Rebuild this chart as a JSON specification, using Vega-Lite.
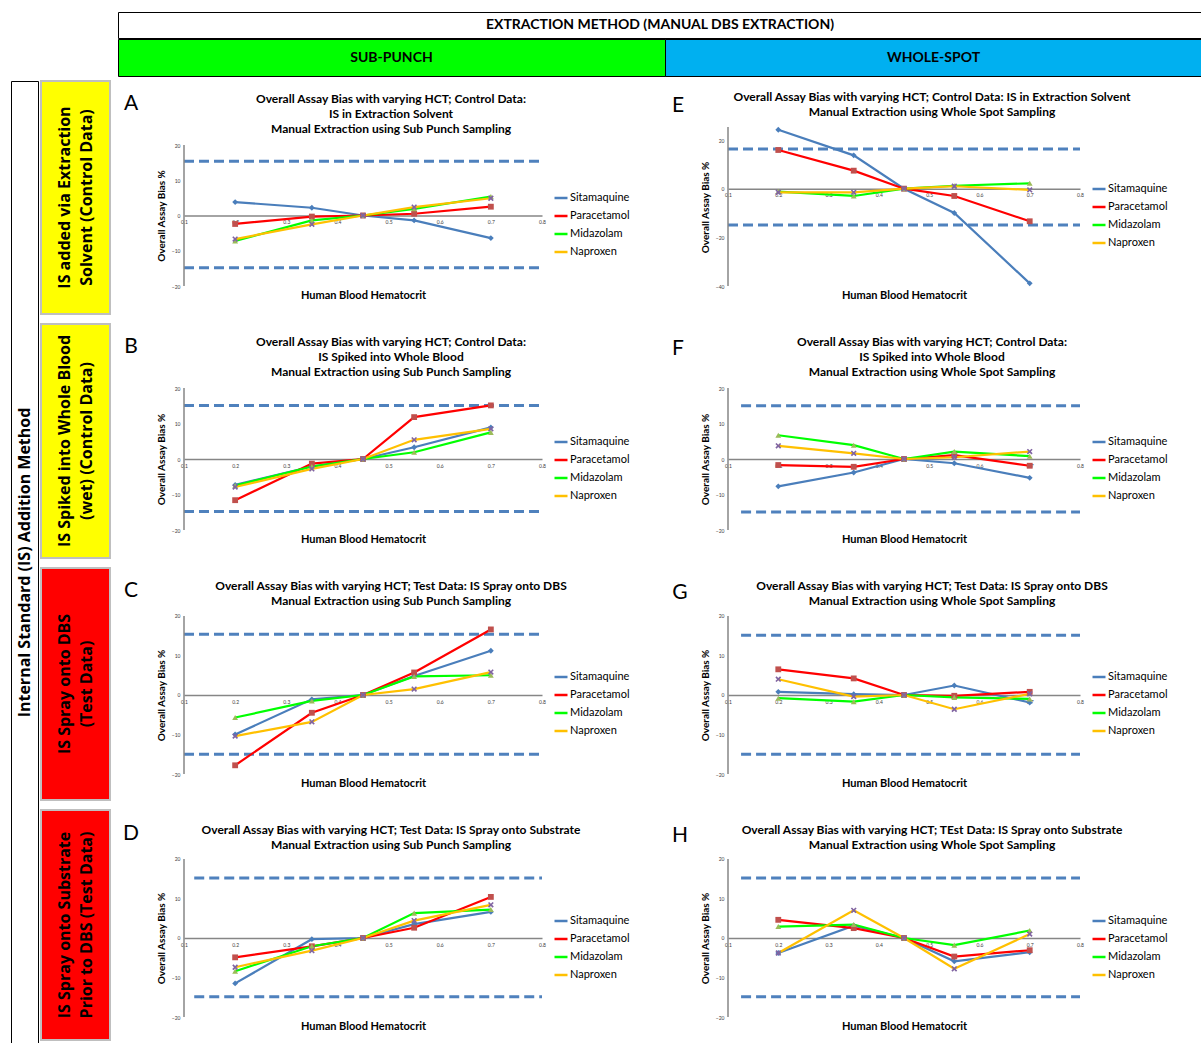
{
"$schema": "https://vega.github.io/schema/vega-lite/v6.json",
"padding": {"left": 10, "top": 11, "right": 0, "bottom": 0},
"autosize": {"type": "pad"},
"background": "white",
"spacing": 3,
"resolve": {"scale": {"color": "independent"}},
"config": {
  "font": "Lato",
  "view": {"stroke": null},
  "axis": {"grid": false, "ticks": false, "tickSize": 0, "labelFontSize": 5, "labelColor": "#404040", "domainColor": "#868686", "domainWidth": 1.5, "titleFontWeight": "bold", "titleColor": "black", "labelFlush": false, "labelOverlap": false},
  "axisX": {"titleFontSize": 11, "labelPadding": 4, "titleBaseline": "middle"},
  "axisY": {"titleFontSize": 10, "labelPadding": 4, "titlePadding": 5, "domain": false},
  "legend": {"orient": "none", "symbolType": "stroke", "symbolStrokeWidth": 2.5, "symbolSize": 169, "labelFontSize": 11, "labelColor": "black", "rowPadding": 5, "labelOffset": 1, "padding": 0},
  "title": {"fontSize": 12, "fontWeight": "bold", "lineHeight": 15, "anchor": "middle", "frame": "group", "dx": 28, "color": "black"}
},
"datasets": {
  "bias": [
    {"panel":"A","drug":"Sitamaquine","hct":0.2,"bias":3.8},{"panel":"A","drug":"Sitamaquine","hct":0.35,"bias":2.2},{"panel":"A","drug":"Sitamaquine","hct":0.45,"bias":0},{"panel":"A","drug":"Sitamaquine","hct":0.55,"bias":-1.4},{"panel":"A","drug":"Sitamaquine","hct":0.7,"bias":-6.4},
    {"panel":"A","drug":"Paracetamol","hct":0.2,"bias":-2.4},{"panel":"A","drug":"Paracetamol","hct":0.35,"bias":-0.3},{"panel":"A","drug":"Paracetamol","hct":0.45,"bias":0},{"panel":"A","drug":"Paracetamol","hct":0.55,"bias":0.5},{"panel":"A","drug":"Paracetamol","hct":0.7,"bias":2.5},
    {"panel":"A","drug":"Midazolam","hct":0.2,"bias":-7.2},{"panel":"A","drug":"Midazolam","hct":0.35,"bias":-1.4},{"panel":"A","drug":"Midazolam","hct":0.45,"bias":0},{"panel":"A","drug":"Midazolam","hct":0.55,"bias":1.9},{"panel":"A","drug":"Midazolam","hct":0.7,"bias":5.4},
    {"panel":"A","drug":"Naproxen","hct":0.2,"bias":-6.7},{"panel":"A","drug":"Naproxen","hct":0.35,"bias":-2.5},{"panel":"A","drug":"Naproxen","hct":0.45,"bias":0},{"panel":"A","drug":"Naproxen","hct":0.55,"bias":2.4},{"panel":"A","drug":"Naproxen","hct":0.7,"bias":4.9},
    {"panel":"E","drug":"Sitamaquine","hct":0.2,"bias":24.2},{"panel":"E","drug":"Sitamaquine","hct":0.35,"bias":13.7},{"panel":"E","drug":"Sitamaquine","hct":0.45,"bias":0},{"panel":"E","drug":"Sitamaquine","hct":0.55,"bias":-10.0},{"panel":"E","drug":"Sitamaquine","hct":0.7,"bias":-38.9},
    {"panel":"E","drug":"Paracetamol","hct":0.2,"bias":15.9},{"panel":"E","drug":"Paracetamol","hct":0.35,"bias":7.4},{"panel":"E","drug":"Paracetamol","hct":0.45,"bias":0},{"panel":"E","drug":"Paracetamol","hct":0.55,"bias":-3.0},{"panel":"E","drug":"Paracetamol","hct":0.7,"bias":-13.4},
    {"panel":"E","drug":"Midazolam","hct":0.2,"bias":-1.2},{"panel":"E","drug":"Midazolam","hct":0.35,"bias":-3.0},{"panel":"E","drug":"Midazolam","hct":0.45,"bias":0},{"panel":"E","drug":"Midazolam","hct":0.55,"bias":1.2},{"panel":"E","drug":"Midazolam","hct":0.7,"bias":2.2},
    {"panel":"E","drug":"Naproxen","hct":0.2,"bias":-1.5},{"panel":"E","drug":"Naproxen","hct":0.35,"bias":-1.5},{"panel":"E","drug":"Naproxen","hct":0.45,"bias":0},{"panel":"E","drug":"Naproxen","hct":0.55,"bias":1.0},{"panel":"E","drug":"Naproxen","hct":0.7,"bias":-0.5},
    {"panel":"B","drug":"Sitamaquine","hct":0.2,"bias":-7.3},{"panel":"B","drug":"Sitamaquine","hct":0.35,"bias":-2.1},{"panel":"B","drug":"Sitamaquine","hct":0.45,"bias":0},{"panel":"B","drug":"Sitamaquine","hct":0.55,"bias":3.3},{"panel":"B","drug":"Sitamaquine","hct":0.7,"bias":8.9},
    {"panel":"B","drug":"Paracetamol","hct":0.2,"bias":-11.6},{"panel":"B","drug":"Paracetamol","hct":0.35,"bias":-1.3},{"panel":"B","drug":"Paracetamol","hct":0.45,"bias":0},{"panel":"B","drug":"Paracetamol","hct":0.55,"bias":11.8},{"panel":"B","drug":"Paracetamol","hct":0.7,"bias":15.1},
    {"panel":"B","drug":"Midazolam","hct":0.2,"bias":-7.5},{"panel":"B","drug":"Midazolam","hct":0.35,"bias":-2.1},{"panel":"B","drug":"Midazolam","hct":0.45,"bias":0},{"panel":"B","drug":"Midazolam","hct":0.55,"bias":1.9},{"panel":"B","drug":"Midazolam","hct":0.7,"bias":7.5},
    {"panel":"B","drug":"Naproxen","hct":0.2,"bias":-7.9},{"panel":"B","drug":"Naproxen","hct":0.35,"bias":-2.8},{"panel":"B","drug":"Naproxen","hct":0.45,"bias":0},{"panel":"B","drug":"Naproxen","hct":0.55,"bias":5.4},{"panel":"B","drug":"Naproxen","hct":0.7,"bias":8.5},
    {"panel":"F","drug":"Sitamaquine","hct":0.2,"bias":-7.7},{"panel":"F","drug":"Sitamaquine","hct":0.35,"bias":-3.8},{"panel":"F","drug":"Sitamaquine","hct":0.45,"bias":0},{"panel":"F","drug":"Sitamaquine","hct":0.55,"bias":-1.2},{"panel":"F","drug":"Sitamaquine","hct":0.7,"bias":-5.3},
    {"panel":"F","drug":"Paracetamol","hct":0.2,"bias":-1.7},{"panel":"F","drug":"Paracetamol","hct":0.35,"bias":-2.2},{"panel":"F","drug":"Paracetamol","hct":0.45,"bias":0},{"panel":"F","drug":"Paracetamol","hct":0.55,"bias":1.1},{"panel":"F","drug":"Paracetamol","hct":0.7,"bias":-1.9},
    {"panel":"F","drug":"Midazolam","hct":0.2,"bias":6.7},{"panel":"F","drug":"Midazolam","hct":0.35,"bias":3.9},{"panel":"F","drug":"Midazolam","hct":0.45,"bias":0},{"panel":"F","drug":"Midazolam","hct":0.55,"bias":2.1},{"panel":"F","drug":"Midazolam","hct":0.7,"bias":0.8},
    {"panel":"F","drug":"Naproxen","hct":0.2,"bias":3.7},{"panel":"F","drug":"Naproxen","hct":0.35,"bias":1.6},{"panel":"F","drug":"Naproxen","hct":0.45,"bias":0},{"panel":"F","drug":"Naproxen","hct":0.55,"bias":0.5},{"panel":"F","drug":"Naproxen","hct":0.7,"bias":2.1},
    {"panel":"C","drug":"Sitamaquine","hct":0.2,"bias":-10.0},{"panel":"C","drug":"Sitamaquine","hct":0.35,"bias":-1.1},{"panel":"C","drug":"Sitamaquine","hct":0.45,"bias":0},{"panel":"C","drug":"Sitamaquine","hct":0.55,"bias":4.8},{"panel":"C","drug":"Sitamaquine","hct":0.7,"bias":11.2},
    {"panel":"C","drug":"Paracetamol","hct":0.2,"bias":-17.8},{"panel":"C","drug":"Paracetamol","hct":0.35,"bias":-4.5},{"panel":"C","drug":"Paracetamol","hct":0.45,"bias":0},{"panel":"C","drug":"Paracetamol","hct":0.55,"bias":5.7},{"panel":"C","drug":"Paracetamol","hct":0.7,"bias":16.6},
    {"panel":"C","drug":"Midazolam","hct":0.2,"bias":-5.7},{"panel":"C","drug":"Midazolam","hct":0.35,"bias":-1.5},{"panel":"C","drug":"Midazolam","hct":0.45,"bias":0},{"panel":"C","drug":"Midazolam","hct":0.55,"bias":4.7},{"panel":"C","drug":"Midazolam","hct":0.7,"bias":5.0},
    {"panel":"C","drug":"Naproxen","hct":0.2,"bias":-10.4},{"panel":"C","drug":"Naproxen","hct":0.35,"bias":-6.8},{"panel":"C","drug":"Naproxen","hct":0.45,"bias":0},{"panel":"C","drug":"Naproxen","hct":0.55,"bias":1.5},{"panel":"C","drug":"Naproxen","hct":0.7,"bias":5.8},
    {"panel":"G","drug":"Sitamaquine","hct":0.2,"bias":0.8},{"panel":"G","drug":"Sitamaquine","hct":0.35,"bias":0.2},{"panel":"G","drug":"Sitamaquine","hct":0.45,"bias":0},{"panel":"G","drug":"Sitamaquine","hct":0.55,"bias":2.4},{"panel":"G","drug":"Sitamaquine","hct":0.7,"bias":-1.9},
    {"panel":"G","drug":"Paracetamol","hct":0.2,"bias":6.5},{"panel":"G","drug":"Paracetamol","hct":0.35,"bias":4.2},{"panel":"G","drug":"Paracetamol","hct":0.45,"bias":0},{"panel":"G","drug":"Paracetamol","hct":0.55,"bias":-0.2},{"panel":"G","drug":"Paracetamol","hct":0.7,"bias":0.8},
    {"panel":"G","drug":"Midazolam","hct":0.2,"bias":-0.8},{"panel":"G","drug":"Midazolam","hct":0.35,"bias":-1.7},{"panel":"G","drug":"Midazolam","hct":0.45,"bias":0},{"panel":"G","drug":"Midazolam","hct":0.55,"bias":-0.6},{"panel":"G","drug":"Midazolam","hct":0.7,"bias":-1.0},
    {"panel":"G","drug":"Naproxen","hct":0.2,"bias":4.0},{"panel":"G","drug":"Naproxen","hct":0.35,"bias":-0.4},{"panel":"G","drug":"Naproxen","hct":0.45,"bias":0},{"panel":"G","drug":"Naproxen","hct":0.55,"bias":-3.6},{"panel":"G","drug":"Naproxen","hct":0.7,"bias":0.3},
    {"panel":"D","drug":"Sitamaquine","hct":0.2,"bias":-11.5},{"panel":"D","drug":"Sitamaquine","hct":0.35,"bias":-0.3},{"panel":"D","drug":"Sitamaquine","hct":0.45,"bias":0},{"panel":"D","drug":"Sitamaquine","hct":0.55,"bias":3.5},{"panel":"D","drug":"Sitamaquine","hct":0.7,"bias":6.6},
    {"panel":"D","drug":"Paracetamol","hct":0.2,"bias":-4.9},{"panel":"D","drug":"Paracetamol","hct":0.35,"bias":-2.1},{"panel":"D","drug":"Paracetamol","hct":0.45,"bias":0},{"panel":"D","drug":"Paracetamol","hct":0.55,"bias":2.6},{"panel":"D","drug":"Paracetamol","hct":0.7,"bias":10.4},
    {"panel":"D","drug":"Midazolam","hct":0.2,"bias":-8.4},{"panel":"D","drug":"Midazolam","hct":0.35,"bias":-2.1},{"panel":"D","drug":"Midazolam","hct":0.45,"bias":0},{"panel":"D","drug":"Midazolam","hct":0.55,"bias":6.3},{"panel":"D","drug":"Midazolam","hct":0.7,"bias":7.2},
    {"panel":"D","drug":"Naproxen","hct":0.2,"bias":-7.4},{"panel":"D","drug":"Naproxen","hct":0.35,"bias":-3.2},{"panel":"D","drug":"Naproxen","hct":0.45,"bias":0},{"panel":"D","drug":"Naproxen","hct":0.55,"bias":4.4},{"panel":"D","drug":"Naproxen","hct":0.7,"bias":8.4},
    {"panel":"H","drug":"Sitamaquine","hct":0.2,"bias":-3.8},{"panel":"H","drug":"Sitamaquine","hct":0.35,"bias":3.1},{"panel":"H","drug":"Sitamaquine","hct":0.45,"bias":0},{"panel":"H","drug":"Sitamaquine","hct":0.55,"bias":-5.9},{"panel":"H","drug":"Sitamaquine","hct":0.7,"bias":-3.6},
    {"panel":"H","drug":"Paracetamol","hct":0.2,"bias":4.6},{"panel":"H","drug":"Paracetamol","hct":0.35,"bias":2.5},{"panel":"H","drug":"Paracetamol","hct":0.45,"bias":0},{"panel":"H","drug":"Paracetamol","hct":0.55,"bias":-4.7},{"panel":"H","drug":"Paracetamol","hct":0.7,"bias":-3.1},
    {"panel":"H","drug":"Midazolam","hct":0.2,"bias":2.9},{"panel":"H","drug":"Midazolam","hct":0.35,"bias":3.4},{"panel":"H","drug":"Midazolam","hct":0.45,"bias":0},{"panel":"H","drug":"Midazolam","hct":0.55,"bias":-1.8},{"panel":"H","drug":"Midazolam","hct":0.7,"bias":1.9},
    {"panel":"H","drug":"Naproxen","hct":0.2,"bias":-3.8},{"panel":"H","drug":"Naproxen","hct":0.35,"bias":7.0},{"panel":"H","drug":"Naproxen","hct":0.45,"bias":0},{"panel":"H","drug":"Naproxen","hct":0.55,"bias":-7.8},{"panel":"H","drug":"Naproxen","hct":0.7,"bias":1.0}
  ],
  "limits": [
    {"panel":"A","hct":0.1,"hctEnd":0.8,"bias":15.4},{"panel":"A","hct":0.1,"hctEnd":0.8,"bias":-14.8},
    {"panel":"E","hct":0.1,"hctEnd":0.8,"bias":16.3},{"panel":"E","hct":0.1,"hctEnd":0.8,"bias":-14.9},
    {"panel":"B","hct":0.1,"hctEnd":0.8,"bias":15.1},{"panel":"B","hct":0.1,"hctEnd":0.8,"bias":-14.8},
    {"panel":"F","hct":0.126,"hctEnd":0.8,"bias":15.0},{"panel":"F","hct":0.126,"hctEnd":0.8,"bias":-14.9},
    {"panel":"C","hct":0.1,"hctEnd":0.8,"bias":15.4},{"panel":"C","hct":0.1,"hctEnd":0.8,"bias":-15.0},
    {"panel":"G","hct":0.126,"hctEnd":0.8,"bias":15.1},{"panel":"G","hct":0.126,"hctEnd":0.8,"bias":-15.0},
    {"panel":"D","hct":0.12,"hctEnd":0.8,"bias":15.2},{"panel":"D","hct":0.12,"hctEnd":0.8,"bias":-14.9},
    {"panel":"H","hct":0.126,"hctEnd":0.8,"bias":15.2},{"panel":"H","hct":0.126,"hctEnd":0.8,"bias":-14.9}
  ],
  "yaxis": [
    {"panel":"A","lo":-20,"hi":20},{"panel":"E","lo":-40,"hi":25.3},{"panel":"B","lo":-20,"hi":20},{"panel":"F","lo":-20,"hi":20},
    {"panel":"C","lo":-20,"hi":20},{"panel":"G","lo":-20,"hi":20},{"panel":"D","lo":-20,"hi":20},{"panel":"H","lo":-20,"hi":20}
  ]
},
"vconcat": [
  {"spacing": -3, "vconcat": [
    {"bounds": "flush", "spacing": 0, "hconcat": [
      {"width": 107, "height": 26, "data": {"values": [{"t": ""}]}, "mark": "text", "encoding": {"text": {"field": "t"}}},
      {"width": 1084, "height": 26, "view": {"stroke": "black", "strokeWidth": 1}, "data": {"values": [{"t": "EXTRACTION METHOD (MANUAL DBS EXTRACTION)"}]}, "mark": {"type": "text", "fontSize": 14, "fontWeight": "bold"}, "encoding": {"text": {"field": "t"}}}
    ]},
    {"bounds": "flush", "spacing": 0, "hconcat": [
      {"width": 107, "height": 37, "data": {"values": [{"t": ""}]}, "mark": "text", "encoding": {"text": {"field": "t"}}},
      {"width": 547, "height": 37, "view": {"fill": "#00FF00", "stroke": "black", "strokeWidth": 1}, "data": {"values": [{"t": "SUB-PUNCH"}]}, "mark": {"type": "text", "fontSize": 14, "fontWeight": "bold"}, "encoding": {"text": {"field": "t"}}},
      {"width": 537, "height": 37, "view": {"fill": "#00B0F0", "stroke": "black", "strokeWidth": 1}, "data": {"values": [{"t": "WHOLE-SPOT"}]}, "mark": {"type": "text", "fontSize": 14, "fontWeight": "bold"}, "encoding": {"text": {"field": "t"}}}
    ]}
  ]},
  {"spacing": 1, "resolve": {"scale": {"color": "independent"}}, "hconcat": [
    {"width": 27, "height": 963, "view": {"stroke": "black", "strokeWidth": 1}, "data": {"values": [{"t": "Internal Standard (IS) Addition Method"}]}, "mark": {"type": "text", "font": "Open Sans", "fontSize": 16, "fontWeight": "bold", "angle": 270}, "encoding": {"text": {"field": "t"}}},
    {"bounds": "flush", "align": "each", "columns": 5, "spacing": {"row": 10, "column": 0}, "resolve": {"scale": {"color": "independent"}}, "concat": [
      {"width": 69, "height": 233, "view": {"fill": "#FFFF00", "stroke": "#BFBFBF", "strokeWidth": 2}, "data": {"values": [{"t": ["IS added via Extraction", "Solvent (Control Data)"]}]}, "mark": {"type": "text", "font": "Open Sans", "fontSize": 16, "fontWeight": "bold", "angle": 270, "lineHeight": 22, "dy": -11}, "encoding": {"text": {"field": "t"}}},
      {"width": 74, "height": 46, "data": {"values": [{"t": "A"}]}, "mark": {"type": "text", "fontSize": 21, "dx": -16, "baseline": "middle"}, "encoding": {"text": {"field": "t"}}},
      {"width": 358, "height": 205,
       "title": {"text": ["Overall Assay Bias with varying HCT; Control Data:", "IS in Extraction Solvent", "Manual Extraction using Sub Punch Sampling"], "offset": -55},
       "layer": [
        {"data": {"name": "limits"}, "transform": [{"filter": "datum.panel === 'A'"}], "mark": {"type": "rule", "color": "#4F81BD", "strokeWidth": 3, "strokeDash": [10, 5]}, "encoding": {"x": {"field": "hct", "type": "quantitative"}, "x2": {"field": "hctEnd"}, "y": {"field": "bias", "type": "quantitative"}}},
        {"data": {"name": "yaxis"}, "transform": [{"filter": "datum.panel === 'A'"}], "mark": {"type": "rule", "color": "#868686", "strokeWidth": 1.5}, "encoding": {"x": {"datum": 0.1}, "y": {"field": "lo", "type": "quantitative"}, "y2": {"field": "hi"}}},
        {"data": {"name": "bias"}, "transform": [{"filter": "datum.panel === 'A'"}], "mark": {"type": "line", "strokeWidth": 2.2},
         "encoding": {
          "x": {"field": "hct", "type": "quantitative", "scale": {"domain": [0.1, 0.8], "nice": false, "zero": false}, "axis": {"title": "Human Blood Hematocrit", "values": [0.1,0.2,0.3,0.4,0.5,0.6,0.7,0.8], "format": ".1f", "offset": -70.5, "titleY": 79.5}},
          "y": {"field": "bias", "type": "quantitative", "scale": {"domain": [-20, 38.16], "nice": false, "zero": false}, "axis": {"title": "Overall Assay Bias %", "values": [-20,-15,-10,-5,0,5,10,15,20], "titleY": 134.5}},
          "color": {"field": "drug", "type": "nominal", "scale": {"domain": ["Sitamaquine","Paracetamol","Midazolam","Naproxen"], "range": ["#4A7EBB","#FF0000","#00FF00","#FFC000"]}, "legend": {"title": null, "legendX": 369, "legendY": 109}}}},
        {"data": {"name": "bias"}, "transform": [{"filter": "datum.panel === 'A'"}], "mark": {"type": "point", "filled": true, "size": 34, "opacity": 1},
         "encoding": {"x": {"field": "hct", "type": "quantitative"}, "y": {"field": "bias", "type": "quantitative"},
          "fill": {"field": "drug", "type": "nominal", "scale": {"domain": ["Sitamaquine","Paracetamol","Midazolam","Naproxen"], "range": ["#4A7EBB","#C0504D","#9BBB59","#8064A2"]}, "legend": null},
          "shape": {"field": "drug", "type": "nominal", "scale": {"domain": ["Sitamaquine","Paracetamol","Midazolam","Naproxen"], "range": ["diamond","square","triangle-up","M-1,-0.6L-0.6,-1L0,-0.4L0.6,-1L1,-0.6L0.4,0L1,0.6L0.6,1L0,0.4L-0.6,1L-1,0.6L-0.4,0Z"]}, "legend": null}}}
       ]},
      {"width": 186, "height": 50, "data": {"values": [{"t": "E"}]}, "mark": {"type": "text", "fontSize": 21, "dx": 43, "baseline": "middle"}, "encoding": {"text": {"field": "t"}}},
      {"width": 352, "height": 205,
       "title": {"text": ["Overall Assay Bias with varying HCT; Control Data: IS in Extraction Solvent", "Manual Extraction using Whole Spot Sampling"], "offset": -38},
       "layer": [
        {"data": {"name": "limits"}, "transform": [{"filter": "datum.panel === 'E'"}], "mark": {"type": "rule", "color": "#4F81BD", "strokeWidth": 3, "strokeDash": [10, 5]}, "encoding": {"x": {"field": "hct", "type": "quantitative"}, "x2": {"field": "hctEnd"}, "y": {"field": "bias", "type": "quantitative"}}},
        {"data": {"name": "yaxis"}, "transform": [{"filter": "datum.panel === 'E'"}], "mark": {"type": "rule", "color": "#868686", "strokeWidth": 1.5}, "encoding": {"x": {"datum": 0.1}, "y": {"field": "lo", "type": "quantitative"}, "y2": {"field": "hi"}}},
        {"data": {"name": "bias"}, "transform": [{"filter": "datum.panel === 'E'"}], "mark": {"type": "line", "strokeWidth": 2.2},
         "encoding": {
          "x": {"field": "hct", "type": "quantitative", "scale": {"domain": [0.1, 0.8], "nice": false, "zero": false}, "axis": {"title": "Human Blood Hematocrit", "values": [0.1,0.2,0.3,0.4,0.5,0.6,0.7,0.8], "format": ".1f", "offset": -97.3, "titleY": 106.3}},
          "y": {"field": "bias", "type": "quantitative", "scale": {"domain": [-40, 44.25], "nice": false, "zero": false}, "axis": {"title": "Overall Assay Bias %", "values": [-40,-30,-20,-10,0,10,20], "titleY": 126}},
          "color": {"field": "drug", "type": "nominal", "scale": {"domain": ["Sitamaquine","Paracetamol","Midazolam","Naproxen"], "range": ["#4A7EBB","#FF0000","#00FF00","#FFC000"]}, "legend": {"title": null, "legendX": 363, "legendY": 100}}}},
        {"data": {"name": "bias"}, "transform": [{"filter": "datum.panel === 'E'"}], "mark": {"type": "point", "filled": true, "size": 34, "opacity": 1},
         "encoding": {"x": {"field": "hct", "type": "quantitative"}, "y": {"field": "bias", "type": "quantitative"},
          "fill": {"field": "drug", "type": "nominal", "scale": {"domain": ["Sitamaquine","Paracetamol","Midazolam","Naproxen"], "range": ["#4A7EBB","#C0504D","#9BBB59","#8064A2"]}, "legend": null},
          "shape": {"field": "drug", "type": "nominal", "scale": {"domain": ["Sitamaquine","Paracetamol","Midazolam","Naproxen"], "range": ["diamond","square","triangle-up","M-1,-0.6L-0.6,-1L0,-0.4L0.6,-1L1,-0.6L0.4,0L1,0.6L0.6,1L0,0.4L-0.6,1L-1,0.6L-0.4,0Z"]}, "legend": null}}}
       ]},

      {"width": 69, "height": 234, "view": {"fill": "#FFFF00", "stroke": "#BFBFBF", "strokeWidth": 2}, "data": {"values": [{"t": ["IS Spiked into Whole Blood", "(wet) (Control Data)"]}]}, "mark": {"type": "text", "font": "Open Sans", "fontSize": 16, "fontWeight": "bold", "angle": 270, "lineHeight": 22, "dy": -11}, "encoding": {"text": {"field": "t"}}},
      {"width": 74, "height": 46, "data": {"values": [{"t": "B"}]}, "mark": {"type": "text", "fontSize": 21, "dx": -16, "baseline": "middle"}, "encoding": {"text": {"field": "t"}}},
      {"width": 358, "height": 206,
       "title": {"text": ["Overall Assay Bias with varying HCT; Control Data:", "IS Spiked into Whole Blood", "Manual Extraction using Sub Punch Sampling"], "offset": -55},
       "layer": [
        {"data": {"name": "limits"}, "transform": [{"filter": "datum.panel === 'B'"}], "mark": {"type": "rule", "color": "#4F81BD", "strokeWidth": 3, "strokeDash": [10, 5]}, "encoding": {"x": {"field": "hct", "type": "quantitative"}, "x2": {"field": "hctEnd"}, "y": {"field": "bias", "type": "quantitative"}}},
        {"data": {"name": "yaxis"}, "transform": [{"filter": "datum.panel === 'B'"}], "mark": {"type": "rule", "color": "#868686", "strokeWidth": 1.5}, "encoding": {"x": {"datum": 0.1}, "y": {"field": "lo", "type": "quantitative"}, "y2": {"field": "hi"}}},
        {"data": {"name": "bias"}, "transform": [{"filter": "datum.panel === 'B'"}], "mark": {"type": "line", "strokeWidth": 2.2},
         "encoding": {
          "x": {"field": "hct", "type": "quantitative", "scale": {"domain": [0.1, 0.8], "nice": false, "zero": false}, "axis": {"title": "Human Blood Hematocrit", "values": [0.1,0.2,0.3,0.4,0.5,0.6,0.7,0.8], "format": ".1f", "offset": -71, "titleY": 80}},
          "y": {"field": "bias", "type": "quantitative", "scale": {"domain": [-20, 38.03], "nice": false, "zero": false}, "axis": {"title": "Overall Assay Bias %", "values": [-20,-15,-10,-5,0,5,10,15,20], "titleY": 135}},
          "color": {"field": "drug", "type": "nominal", "scale": {"domain": ["Sitamaquine","Paracetamol","Midazolam","Naproxen"], "range": ["#4A7EBB","#FF0000","#00FF00","#FFC000"]}, "legend": {"title": null, "legendX": 369, "legendY": 110}}}},
        {"data": {"name": "bias"}, "transform": [{"filter": "datum.panel === 'B'"}], "mark": {"type": "point", "filled": true, "size": 34, "opacity": 1},
         "encoding": {"x": {"field": "hct", "type": "quantitative"}, "y": {"field": "bias", "type": "quantitative"},
          "fill": {"field": "drug", "type": "nominal", "scale": {"domain": ["Sitamaquine","Paracetamol","Midazolam","Naproxen"], "range": ["#4A7EBB","#C0504D","#9BBB59","#8064A2"]}, "legend": null},
          "shape": {"field": "drug", "type": "nominal", "scale": {"domain": ["Sitamaquine","Paracetamol","Midazolam","Naproxen"], "range": ["diamond","square","triangle-up","M-1,-0.6L-0.6,-1L0,-0.4L0.6,-1L1,-0.6L0.4,0L1,0.6L0.6,1L0,0.4L-0.6,1L-1,0.6L-0.4,0Z"]}, "legend": null}}}
       ]},
      {"width": 186, "height": 50, "data": {"values": [{"t": "F"}]}, "mark": {"type": "text", "fontSize": 21, "dx": 43, "baseline": "middle"}, "encoding": {"text": {"field": "t"}}},
      {"width": 352, "height": 206,
       "title": {"text": ["Overall Assay Bias with varying HCT; Control Data:", "IS Spiked into Whole Blood", "Manual Extraction using Whole Spot Sampling"], "offset": -55},
       "layer": [
        {"data": {"name": "limits"}, "transform": [{"filter": "datum.panel === 'F'"}], "mark": {"type": "rule", "color": "#4F81BD", "strokeWidth": 3, "strokeDash": [10, 5]}, "encoding": {"x": {"field": "hct", "type": "quantitative"}, "x2": {"field": "hctEnd"}, "y": {"field": "bias", "type": "quantitative"}}},
        {"data": {"name": "yaxis"}, "transform": [{"filter": "datum.panel === 'F'"}], "mark": {"type": "rule", "color": "#868686", "strokeWidth": 1.5}, "encoding": {"x": {"datum": 0.1}, "y": {"field": "lo", "type": "quantitative"}, "y2": {"field": "hi"}}},
        {"data": {"name": "bias"}, "transform": [{"filter": "datum.panel === 'F'"}], "mark": {"type": "line", "strokeWidth": 2.2},
         "encoding": {
          "x": {"field": "hct", "type": "quantitative", "scale": {"domain": [0.1, 0.8], "nice": false, "zero": false}, "axis": {"title": "Human Blood Hematocrit", "values": [0.1,0.2,0.3,0.4,0.5,0.6,0.7,0.8], "format": ".1f", "offset": -71, "titleY": 80}},
          "y": {"field": "bias", "type": "quantitative", "scale": {"domain": [-20, 38.03], "nice": false, "zero": false}, "axis": {"title": "Overall Assay Bias %", "values": [-20,-15,-10,-5,0,5,10,15,20], "titleY": 135}},
          "color": {"field": "drug", "type": "nominal", "scale": {"domain": ["Sitamaquine","Paracetamol","Midazolam","Naproxen"], "range": ["#4A7EBB","#FF0000","#00FF00","#FFC000"]}, "legend": {"title": null, "legendX": 363, "legendY": 110}}}},
        {"data": {"name": "bias"}, "transform": [{"filter": "datum.panel === 'F'"}], "mark": {"type": "point", "filled": true, "size": 34, "opacity": 1},
         "encoding": {"x": {"field": "hct", "type": "quantitative"}, "y": {"field": "bias", "type": "quantitative"},
          "fill": {"field": "drug", "type": "nominal", "scale": {"domain": ["Sitamaquine","Paracetamol","Midazolam","Naproxen"], "range": ["#4A7EBB","#C0504D","#9BBB59","#8064A2"]}, "legend": null},
          "shape": {"field": "drug", "type": "nominal", "scale": {"domain": ["Sitamaquine","Paracetamol","Midazolam","Naproxen"], "range": ["diamond","square","triangle-up","M-1,-0.6L-0.6,-1L0,-0.4L0.6,-1L1,-0.6L0.4,0L1,0.6L0.6,1L0,0.4L-0.6,1L-1,0.6L-0.4,0Z"]}, "legend": null}}}
       ]},

      {"width": 69, "height": 232, "view": {"fill": "#FF0000", "stroke": "#BFBFBF", "strokeWidth": 2}, "data": {"values": [{"t": ["IS Spray onto DBS", "(Test Data)"]}]}, "mark": {"type": "text", "font": "Open Sans", "fontSize": 16, "fontWeight": "bold", "angle": 270, "lineHeight": 22, "dy": -11}, "encoding": {"text": {"field": "t"}}},
      {"width": 74, "height": 46, "data": {"values": [{"t": "C"}]}, "mark": {"type": "text", "fontSize": 21, "dx": -16, "baseline": "middle"}, "encoding": {"text": {"field": "t"}}},
      {"width": 358, "height": 206,
       "title": {"text": ["Overall Assay Bias with varying HCT; Test Data: IS Spray onto DBS", "Manual Extraction using Sub Punch Sampling"], "offset": -40},
       "layer": [
        {"data": {"name": "limits"}, "transform": [{"filter": "datum.panel === 'C'"}], "mark": {"type": "rule", "color": "#4F81BD", "strokeWidth": 3, "strokeDash": [10, 5]}, "encoding": {"x": {"field": "hct", "type": "quantitative"}, "x2": {"field": "hctEnd"}, "y": {"field": "bias", "type": "quantitative"}}},
        {"data": {"name": "yaxis"}, "transform": [{"filter": "datum.panel === 'C'"}], "mark": {"type": "rule", "color": "#868686", "strokeWidth": 1.5}, "encoding": {"x": {"datum": 0.1}, "y": {"field": "lo", "type": "quantitative"}, "y2": {"field": "hi"}}},
        {"data": {"name": "bias"}, "transform": [{"filter": "datum.panel === 'C'"}], "mark": {"type": "line", "strokeWidth": 2.2},
         "encoding": {
          "x": {"field": "hct", "type": "quantitative", "scale": {"domain": [0.1, 0.8], "nice": false, "zero": false}, "axis": {"title": "Human Blood Hematocrit", "values": [0.1,0.2,0.3,0.4,0.5,0.6,0.7,0.8], "format": ".1f", "offset": -79, "titleY": 88}},
          "y": {"field": "bias", "type": "quantitative", "scale": {"domain": [-20, 32.15], "nice": false, "zero": false}, "axis": {"title": "Overall Assay Bias %", "values": [-20,-15,-10,-5,0,5,10,15,20], "titleY": 127}},
          "color": {"field": "drug", "type": "nominal", "scale": {"domain": ["Sitamaquine","Paracetamol","Midazolam","Naproxen"], "range": ["#4A7EBB","#FF0000","#00FF00","#FFC000"]}, "legend": {"title": null, "legendX": 369, "legendY": 101}}}},
        {"data": {"name": "bias"}, "transform": [{"filter": "datum.panel === 'C'"}], "mark": {"type": "point", "filled": true, "size": 34, "opacity": 1},
         "encoding": {"x": {"field": "hct", "type": "quantitative"}, "y": {"field": "bias", "type": "quantitative"},
          "fill": {"field": "drug", "type": "nominal", "scale": {"domain": ["Sitamaquine","Paracetamol","Midazolam","Naproxen"], "range": ["#4A7EBB","#C0504D","#9BBB59","#8064A2"]}, "legend": null},
          "shape": {"field": "drug", "type": "nominal", "scale": {"domain": ["Sitamaquine","Paracetamol","Midazolam","Naproxen"], "range": ["diamond","square","triangle-up","M-1,-0.6L-0.6,-1L0,-0.4L0.6,-1L1,-0.6L0.4,0L1,0.6L0.6,1L0,0.4L-0.6,1L-1,0.6L-0.4,0Z"]}, "legend": null}}}
       ]},
      {"width": 186, "height": 50, "data": {"values": [{"t": "G"}]}, "mark": {"type": "text", "fontSize": 21, "dx": 45, "baseline": "middle"}, "encoding": {"text": {"field": "t"}}},
      {"width": 352, "height": 206,
       "title": {"text": ["Overall Assay Bias with varying HCT; Test Data: IS Spray onto DBS", "Manual Extraction using Whole Spot Sampling"], "offset": -40},
       "layer": [
        {"data": {"name": "limits"}, "transform": [{"filter": "datum.panel === 'G'"}], "mark": {"type": "rule", "color": "#4F81BD", "strokeWidth": 3, "strokeDash": [10, 5]}, "encoding": {"x": {"field": "hct", "type": "quantitative"}, "x2": {"field": "hctEnd"}, "y": {"field": "bias", "type": "quantitative"}}},
        {"data": {"name": "yaxis"}, "transform": [{"filter": "datum.panel === 'G'"}], "mark": {"type": "rule", "color": "#868686", "strokeWidth": 1.5}, "encoding": {"x": {"datum": 0.1}, "y": {"field": "lo", "type": "quantitative"}, "y2": {"field": "hi"}}},
        {"data": {"name": "bias"}, "transform": [{"filter": "datum.panel === 'G'"}], "mark": {"type": "line", "strokeWidth": 2.2},
         "encoding": {
          "x": {"field": "hct", "type": "quantitative", "scale": {"domain": [0.1, 0.8], "nice": false, "zero": false}, "axis": {"title": "Human Blood Hematocrit", "values": [0.1,0.2,0.3,0.4,0.5,0.6,0.7,0.8], "format": ".1f", "offset": -79, "titleY": 88}},
          "y": {"field": "bias", "type": "quantitative", "scale": {"domain": [-20, 32.15], "nice": false, "zero": false}, "axis": {"title": "Overall Assay Bias %", "values": [-20,-15,-10,-5,0,5,10,15,20], "titleY": 127}},
          "color": {"field": "drug", "type": "nominal", "scale": {"domain": ["Sitamaquine","Paracetamol","Midazolam","Naproxen"], "range": ["#4A7EBB","#FF0000","#00FF00","#FFC000"]}, "legend": {"title": null, "legendX": 363, "legendY": 101}}}},
        {"data": {"name": "bias"}, "transform": [{"filter": "datum.panel === 'G'"}], "mark": {"type": "point", "filled": true, "size": 34, "opacity": 1},
         "encoding": {"x": {"field": "hct", "type": "quantitative"}, "y": {"field": "bias", "type": "quantitative"},
          "fill": {"field": "drug", "type": "nominal", "scale": {"domain": ["Sitamaquine","Paracetamol","Midazolam","Naproxen"], "range": ["#4A7EBB","#C0504D","#9BBB59","#8064A2"]}, "legend": null},
          "shape": {"field": "drug", "type": "nominal", "scale": {"domain": ["Sitamaquine","Paracetamol","Midazolam","Naproxen"], "range": ["diamond","square","triangle-up","M-1,-0.6L-0.6,-1L0,-0.4L0.6,-1L1,-0.6L0.4,0L1,0.6L0.6,1L0,0.4L-0.6,1L-1,0.6L-0.4,0Z"]}, "legend": null}}}
       ]},

      {"width": 69, "height": 230, "view": {"fill": "#FF0000", "stroke": "#BFBFBF", "strokeWidth": 2}, "data": {"values": [{"t": ["IS Spray onto Substrate", "Prior to DBS (Test Data)"]}]}, "mark": {"type": "text", "font": "Open Sans", "fontSize": 16, "fontWeight": "bold", "angle": 270, "lineHeight": 22, "dy": -11}, "encoding": {"text": {"field": "t"}}},
      {"width": 74, "height": 48, "data": {"values": [{"t": "D"}]}, "mark": {"type": "text", "fontSize": 21, "dx": -16, "baseline": "middle"}, "encoding": {"text": {"field": "t"}}},
      {"width": 358, "height": 207,
       "title": {"text": ["Overall Assay Bias with varying HCT; Test Data: IS Spray onto Substrate", "Manual Extraction using Sub Punch Sampling"], "offset": -42},
       "layer": [
        {"data": {"name": "limits"}, "transform": [{"filter": "datum.panel === 'D'"}], "mark": {"type": "rule", "color": "#4F81BD", "strokeWidth": 3, "strokeDash": [10, 5]}, "encoding": {"x": {"field": "hct", "type": "quantitative"}, "x2": {"field": "hctEnd"}, "y": {"field": "bias", "type": "quantitative"}}},
        {"data": {"name": "yaxis"}, "transform": [{"filter": "datum.panel === 'D'"}], "mark": {"type": "rule", "color": "#868686", "strokeWidth": 1.5}, "encoding": {"x": {"datum": 0.1}, "y": {"field": "lo", "type": "quantitative"}, "y2": {"field": "hi"}}},
        {"data": {"name": "bias"}, "transform": [{"filter": "datum.panel === 'D'"}], "mark": {"type": "line", "strokeWidth": 2.2},
         "encoding": {
          "x": {"field": "hct", "type": "quantitative", "scale": {"domain": [0.1, 0.8], "nice": false, "zero": false}, "axis": {"title": "Human Blood Hematocrit", "values": [0.1,0.2,0.3,0.4,0.5,0.6,0.7,0.8], "format": ".1f", "offset": -79, "titleY": 88}},
          "y": {"field": "bias", "type": "quantitative", "scale": {"domain": [-20, 32.4], "nice": false, "zero": false}, "axis": {"title": "Overall Assay Bias %", "values": [-20,-15,-10,-5,0,5,10,15,20], "titleY": 128}},
          "color": {"field": "drug", "type": "nominal", "scale": {"domain": ["Sitamaquine","Paracetamol","Midazolam","Naproxen"], "range": ["#4A7EBB","#FF0000","#00FF00","#FFC000"]}, "legend": {"title": null, "legendX": 369, "legendY": 103}}}},
        {"data": {"name": "bias"}, "transform": [{"filter": "datum.panel === 'D'"}], "mark": {"type": "point", "filled": true, "size": 34, "opacity": 1},
         "encoding": {"x": {"field": "hct", "type": "quantitative"}, "y": {"field": "bias", "type": "quantitative"},
          "fill": {"field": "drug", "type": "nominal", "scale": {"domain": ["Sitamaquine","Paracetamol","Midazolam","Naproxen"], "range": ["#4A7EBB","#C0504D","#9BBB59","#8064A2"]}, "legend": null},
          "shape": {"field": "drug", "type": "nominal", "scale": {"domain": ["Sitamaquine","Paracetamol","Midazolam","Naproxen"], "range": ["diamond","square","triangle-up","M-1,-0.6L-0.6,-1L0,-0.4L0.6,-1L1,-0.6L0.4,0L1,0.6L0.6,1L0,0.4L-0.6,1L-1,0.6L-0.4,0Z"]}, "legend": null}}}
       ]},
      {"width": 186, "height": 52, "data": {"values": [{"t": "H"}]}, "mark": {"type": "text", "fontSize": 21, "dx": 45, "baseline": "middle"}, "encoding": {"text": {"field": "t"}}},
      {"width": 352, "height": 207,
       "title": {"text": ["Overall Assay Bias with varying HCT; TEst Data: IS Spray onto Substrate", "Manual Extraction using Whole Spot Sampling"], "offset": -42},
       "layer": [
        {"data": {"name": "limits"}, "transform": [{"filter": "datum.panel === 'H'"}], "mark": {"type": "rule", "color": "#4F81BD", "strokeWidth": 3, "strokeDash": [10, 5]}, "encoding": {"x": {"field": "hct", "type": "quantitative"}, "x2": {"field": "hctEnd"}, "y": {"field": "bias", "type": "quantitative"}}},
        {"data": {"name": "yaxis"}, "transform": [{"filter": "datum.panel === 'H'"}], "mark": {"type": "rule", "color": "#868686", "strokeWidth": 1.5}, "encoding": {"x": {"datum": 0.1}, "y": {"field": "lo", "type": "quantitative"}, "y2": {"field": "hi"}}},
        {"data": {"name": "bias"}, "transform": [{"filter": "datum.panel === 'H'"}], "mark": {"type": "line", "strokeWidth": 2.2},
         "encoding": {
          "x": {"field": "hct", "type": "quantitative", "scale": {"domain": [0.1, 0.8], "nice": false, "zero": false}, "axis": {"title": "Human Blood Hematocrit", "values": [0.1,0.2,0.3,0.4,0.5,0.6,0.7,0.8], "format": ".1f", "offset": -79, "titleY": 88}},
          "y": {"field": "bias", "type": "quantitative", "scale": {"domain": [-20, 32.4], "nice": false, "zero": false}, "axis": {"title": "Overall Assay Bias %", "values": [-20,-15,-10,-5,0,5,10,15,20], "titleY": 128}},
          "color": {"field": "drug", "type": "nominal", "scale": {"domain": ["Sitamaquine","Paracetamol","Midazolam","Naproxen"], "range": ["#4A7EBB","#FF0000","#00FF00","#FFC000"]}, "legend": {"title": null, "legendX": 363, "legendY": 103}}}},
        {"data": {"name": "bias"}, "transform": [{"filter": "datum.panel === 'H'"}], "mark": {"type": "point", "filled": true, "size": 34, "opacity": 1},
         "encoding": {"x": {"field": "hct", "type": "quantitative"}, "y": {"field": "bias", "type": "quantitative"},
          "fill": {"field": "drug", "type": "nominal", "scale": {"domain": ["Sitamaquine","Paracetamol","Midazolam","Naproxen"], "range": ["#4A7EBB","#C0504D","#9BBB59","#8064A2"]}, "legend": null},
          "shape": {"field": "drug", "type": "nominal", "scale": {"domain": ["Sitamaquine","Paracetamol","Midazolam","Naproxen"], "range": ["diamond","square","triangle-up","M-1,-0.6L-0.6,-1L0,-0.4L0.6,-1L1,-0.6L0.4,0L1,0.6L0.6,1L0,0.4L-0.6,1L-1,0.6L-0.4,0Z"]}, "legend": null}}}
       ]}
    ]}
  ]}
]
}
